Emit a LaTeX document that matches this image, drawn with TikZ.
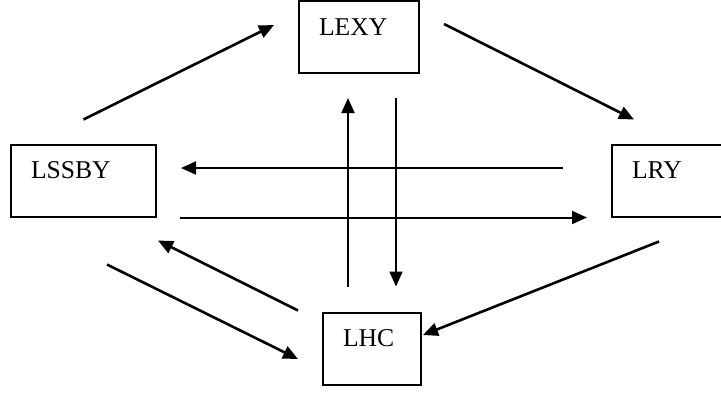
\documentclass[tikz,border=0pt]{standalone}
\usepackage{fontspec}
\setmainfont{Liberation Serif}
\usetikzlibrary{arrows.meta}

\tikzset{
  box/.style={draw, line width=1pt, align=left, inner xsep=10pt, inner ysep=8.5pt,
    text height=8.5pt, text depth=10.5pt, font=\fontsize{12.8}{15}\selectfont},
  arr/.style={line width=1pt, -{Triangle[length=7.5pt,width=6.5pt]}},
  slant/.style={arr, line width=1.3pt}
}

\begin{document}
\begin{tikzpicture}[x=0.5pt,y=-0.5pt]
\useasboundingbox (0,0) rectangle (721,392);
\clip (0,0) rectangle (721,392);

% the four boxes
\node[box, text width=40pt] (lexy) at (359,37) {LEXY};
\node[box, text width=52.5pt] (lssby) at (83.5,180.5) {LSSBY};
\node[box, text width=40pt] (lry) at (672,180.5) {LRY};
\node[box, text width=29pt] (lhc) at (372,348.5) {LHC};

% round the outside
\draw[slant] ([shift={(0,-24)}]lssby.north) -- ([shift={(-24,-12)}]lexy.west);
\draw[slant] ([shift={(24,-13)}]lexy.east) -- ([shift={(23,-24)}]lry.north west);
\draw[slant] ([shift={(-13,24)}]lry.south) -- ([shift={(1,-13.5)}]lhc.east);
\draw[slant] ([shift={(-24,-1)}]lhc.north west) -- ([shift={(1,23)}]lssby.south east);
\draw[slant] ([shift={(23.5,47)}]lssby.south) -- ([shift={(-24,10.5)}]lhc.west);

% across the middle
\draw[arr] ([shift={(-48,-12.5)}]lry.west) -- ([shift={(24,-12.5)}]lssby.east);
\draw[arr] ([shift={(23,0)}]lssby.south east) -- ([shift={(-24,0)}]lry.south west);
\draw[arr] ([shift={(-24,-25)}]lhc.north) -- ([shift={(-11,24)}]lexy.south);
\draw[arr] ([shift={(37,24)}]lexy.south) -- ([shift={(24,-25)}]lhc.north);
\end{tikzpicture}
\end{document}
